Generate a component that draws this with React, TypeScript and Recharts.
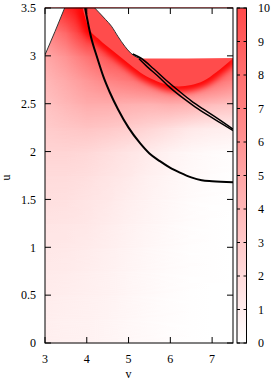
import React from "react";
import { ComposedChart, XAxis, YAxis, ReferenceArea, Line, Area } from "recharts";

const FONT = "'Liberation Serif', 'DejaVu Serif', serif";

// ─── Axes ─────────────────────────────────────────────────────────────────────
const vDomain: [number, number] = [3, 7.5];
const uDomain: [number, number] = [0, 3.5];
const vTicks = [3, 4, 5, 6, 7];
const uTicks = [0, 0.5, 1, 1.5, 2, 2.5, 3, 3.5];
const cbDomain: [number, number] = [0, 10];
const cbTicks = [0, 1, 2, 3, 4, 5, 6, 7, 8, 9, 10];

// ─── Field samples (colour-box units; above 10 runs into pure red) ───────────
const gridV = [3, 3.5, 4, 4.5, 5, 5.5, 6, 6.5, 7, 7.5];
const gridU = [0, 0.25, 0.5, 0.75, 1, 1.25, 1.5, 1.75, 2, 2.25, 2.5, 2.75, 3, 3.25, 3.5];
const fieldRows = [
  [0.9, 0.8, 0.7, 0.55, 0.4, 0.25, 0.12, 0.05, 0, 0],
  [0.95, 0.85, 0.75, 0.6, 0.45, 0.28, 0.14, 0.06, 0, 0],
  [1.05, 0.95, 0.85, 0.7, 0.5, 0.32, 0.16, 0.07, 0.02, 0],
  [1.15, 1.1, 0.95, 0.8, 0.58, 0.38, 0.2, 0.09, 0.03, 0],
  [1.3, 1.25, 1.1, 0.9, 0.68, 0.45, 0.25, 0.12, 0.04, 0],
  [1.5, 1.45, 1.3, 1.05, 0.8, 0.55, 0.32, 0.16, 0.06, 0.02],
  [1.75, 1.7, 1.5, 1.25, 0.95, 0.68, 0.42, 0.22, 0.1, 0.04],
  [2.0, 2.0, 1.8, 1.5, 1.2, 0.85, 0.55, 0.32, 0.16, 0.08],
  [2.35, 2.35, 2.2, 1.9, 1.5, 1.1, 0.72, 0.45, 0.28, 0.18],
  [2.8, 3.1, 3.3, 3.1, 2.8, 2.4, 1.9, 1.3, 1.1, 1.0],
  [3.3, 4.0, 4.6, 4.6, 4.4, 4.3, 4.6, 4.4, 3.8, 3.5],
  [4.0, 4.8, 5.8, 6.8, 7.5, 8.5, 9.5, 9.5, 8.5, 7.0],
  [4.8, 6.0, 7.8, 9.5, 10, 10, 10, 10, 10, 10],
  [6.5, 8.5, 11, 10.5, 10, 10, 10, 10, 10, 10],
  [9, 11, 12, 11, 10, 10, 10, 10, 10, 10],
];

// ─── Domain edges and curves (v, u) ───────────────────────────────────────────
const leftEdge = [
  { v: 3.0, u: 3.01 },
  { v: 3.24, u: 3.255 },
  { v: 3.47, u: 3.5 },
];
const rightEdge = [
  { v: 4.19, u: 3.5 },
  { v: 4.3, u: 3.45 },
  { v: 4.45, u: 3.38 },
  { v: 4.59, u: 3.31 },
  { v: 4.75, u: 3.2 },
  { v: 4.91, u: 3.1 },
  { v: 5.05, u: 3.03 },
  { v: 5.2, u: 2.985 },
  { v: 5.3, u: 2.972 },
];
const flatTop = [
  { v: 5.3, u: 2.972 },
  { v: 7.5, u: 2.978 },
];
// jump in the field: saturated just below, flat colour above
const ridge = [
  { v: 3.9, u: 3.5 },
  { v: 4.03, u: 3.31 },
  { v: 4.3, u: 3.17 },
  { v: 4.6, u: 3.06 },
  { v: 5.0, u: 2.92 },
  { v: 5.27, u: 2.83 },
  { v: 5.6, u: 2.75 },
  { v: 5.9, u: 2.7 },
  { v: 6.2, u: 2.68 },
  { v: 6.5, u: 2.695 },
  { v: 6.8, u: 2.74 },
  { v: 7.1, u: 2.83 },
  { v: 7.3, u: 2.9 },
  { v: 7.5, u: 2.975 },
];
const lowerCurve = [
  { v: 3.96, u: 3.5 },
  { v: 4.1, u: 3.2 },
  { v: 4.25, u: 2.98 },
  { v: 4.4, u: 2.78 },
  { v: 4.55, u: 2.62 },
  { v: 4.75, u: 2.44 },
  { v: 5.0, u: 2.25 },
  { v: 5.27, u: 2.09 },
  { v: 5.5, u: 1.98 },
  { v: 5.75, u: 1.9 },
  { v: 6.0, u: 1.83 },
  { v: 6.23, u: 1.78 },
  { v: 6.5, u: 1.73 },
  { v: 6.75, u: 1.7 },
  { v: 7.0, u: 1.69 },
  { v: 7.5, u: 1.68 },
];
const pairUpper = [
  { v: 5.1, u: 3.02 },
  { v: 5.3, u: 2.975 },
  { v: 5.6, u: 2.865 },
  { v: 5.9, u: 2.745 },
  { v: 6.2, u: 2.635 },
  { v: 6.5, u: 2.53 },
  { v: 6.8, u: 2.44 },
  { v: 7.1, u: 2.355 },
  { v: 7.5, u: 2.235 },
];
const pairLower = [
  { v: 5.25, u: 2.97 },
  { v: 5.45, u: 2.885 },
  { v: 5.7, u: 2.79 },
  { v: 6.0, u: 2.665 },
  { v: 6.3, u: 2.56 },
  { v: 6.6, u: 2.465 },
  { v: 6.9, u: 2.38 },
  { v: 7.2, u: 2.3 },
  { v: 7.5, u: 2.22 },
];

// white -> red palette, values past 10 deepen towards pure red
function heat(val: number): string {
  const g = val <= 10 ? 255 - 18.1 * val : Math.max(0, 74 - 37 * (val - 10));
  const h = Math.round(g).toString(16).padStart(2, "0");
  return `#ff${h}${h}`;
}

const toTop = (pts: { v: number; u: number }[]) =>
  pts.map((p) => ({ v: p.v, lo: p.u, hi: uDomain[1] }));
const maskLeft = toTop(leftEdge);
const maskRight = toTop([...rightEdge, ...flatTop.slice(1)]);
const plateau = toTop(ridge);
const range = (d: { lo: number; hi: number }) => [d.lo, d.hi];
const cbFill = [
  { x: 0, span: cbDomain },
  { x: 1, span: cbDomain },
];

// ─── Layout: plot box x 45..233, y 8..343; colour box x 237..246.5 ───────────
const W = 274;
const H = 382;
const PLOT = { left: 45, top: 8, right: 233, bottom: 343 };
const CBOX = { left: 237, right: 246.5 };
const TICK = 6;
const CB_TICK = 3;
const tickStyle = { fontSize: 12, fontFamily: FONT, fill: "#000" };

// same linear mapping the chart uses, for the border furniture only
const px = (v: number) => PLOT.left + ((v - vDomain[0]) / (vDomain[1] - vDomain[0])) * (PLOT.right - PLOT.left);
const pyU = (u: number) => PLOT.bottom - ((u - uDomain[0]) / (uDomain[1] - uDomain[0])) * (PLOT.bottom - PLOT.top);
const pyC = (c: number) => PLOT.bottom - ((c - cbDomain[0]) / (cbDomain[1] - cbDomain[0])) * (PLOT.bottom - PLOT.top);

function Furniture() {
  const d: string[] = [];
  vTicks.forEach((t) => {
    const x = px(t);
    d.push(`M${x},${PLOT.bottom}v${-TICK}M${x},${PLOT.top}v${TICK}`);
  });
  uTicks.forEach((t) => {
    const y = pyU(t);
    d.push(`M${PLOT.left},${y}h${TICK}M${PLOT.right},${y}h${-TICK}`);
  });
  cbTicks.forEach((t) => {
    const y = pyC(t);
    d.push(`M${CBOX.left},${y}h${CB_TICK}M${CBOX.right},${y}h${-CB_TICK}`);
  });
  return (
    <svg
      width={W}
      height={H}
      style={{ position: "absolute", left: 0, top: 0, zIndex: 5, pointerEvents: "none" }}
    >
      <path d={d.join("")} stroke="#000" strokeWidth={1} fill="none" />
      <rect
        x={PLOT.left}
        y={PLOT.top}
        width={PLOT.right - PLOT.left}
        height={PLOT.bottom - PLOT.top}
        stroke="#000"
        strokeWidth={1}
        fill="none"
      />
      <rect
        x={CBOX.left}
        y={PLOT.top}
        width={CBOX.right - CBOX.left}
        height={PLOT.bottom - PLOT.top}
        stroke="#000"
        strokeWidth={1}
        fill="none"
      />
    </svg>
  );
}

function HeatBand(props: any) {
  const { x, y, width, height, row } = props;
  return (
    <g>
      <rect x={x} y={y - 0.5} width={width} height={height + 1} fill={`url(#row-${row})`} />
      <rect
        x={x}
        y={y - 0.5}
        width={width}
        height={height + 1}
        fill={`url(#row-${row + 1})`}
        mask="url(#fade)"
      />
    </g>
  );
}

const renderVLabel = (props: any) => {
  const vb = props.viewBox;
  return (
    <text x={vb.x + vb.width / 2 - 10.5} y={vb.y + 35} textAnchor="middle" {...tickStyle}>
      v
    </text>
  );
};

const renderULabel = (props: any) => {
  const vb = props.viewBox;
  const x = vb.x + 9.5;
  const y = vb.y + vb.height / 2 + 2;
  return (
    <text x={x} y={y} transform={`rotate(-90 ${x} ${y})`} textAnchor="middle" {...tickStyle}>
      u
    </text>
  );
};

const layer = (z: number) => ({ position: "absolute", left: 0, top: 0, zIndex: z }) as const;
const plain = { dot: false, activeDot: false, isAnimationActive: false } as const;

export default function App() {
  const vSpan = gridV[gridV.length - 1] - gridV[0];
  return (
    <div style={{ position: "absolute", left: 0, top: 0, width: W, height: H, background: "#fff" }}>
      <svg width={0} height={0} style={{ position: "absolute" }}>
        <defs>
          {fieldRows.map((row, j) => (
            <linearGradient id={`row-${j}`} key={j} x1="0" y1="0" x2="1" y2="0">
              {row.map((val, k) => (
                <stop key={k} offset={(gridV[k] - gridV[0]) / vSpan} stopColor={heat(val)} />
              ))}
            </linearGradient>
          ))}
          <linearGradient id="fadeGrad" x1="0" y1="0" x2="0" y2="1">
            <stop offset="0" stopColor="#fff" stopOpacity={1} />
            <stop offset="1" stopColor="#fff" stopOpacity={0} />
          </linearGradient>
          <mask id="fade" maskContentUnits="objectBoundingBox" style={{ maskType: "alpha" } as any}>
            <rect x="0" y="0" width="1" height="1" fill="url(#fadeGrad)" />
          </mask>
          <filter id="ridgeBlur" x="-10%" y="-60%" width="120%" height="220%">
            <feGaussianBlur stdDeviation="3" />
          </filter>
          <linearGradient id="cbar" x1="0" y1="1" x2="0" y2="0">
            {cbTicks.map((t) => (
              <stop key={t} offset={t / cbDomain[1]} stopColor={heat(t)} />
            ))}
          </linearGradient>
        </defs>
      </svg>

      {/* map */}
      <ComposedChart
        width={W}
        height={H}
        margin={{ top: PLOT.top, right: W - PLOT.right, left: 0, bottom: 0 }}
        style={layer(1)}
      >
        <XAxis
          dataKey="v"
          type="number"
          domain={vDomain}
          ticks={vTicks}
          interval={0}
          allowDataOverflow
          height={H - PLOT.bottom}
          tickLine={false}
          axisLine={false}
          tickSize={TICK}
          tickMargin={5}
          tick={tickStyle}
          label={renderVLabel}
        />
        <YAxis
          type="number"
          domain={uDomain}
          ticks={uTicks}
          interval={0}
          allowDataOverflow
          width={PLOT.left}
          tickLine={false}
          axisLine={false}
          tickSize={TICK}
          tickMargin={3}
          tick={tickStyle}
          label={renderULabel}
        />
        {gridU.slice(0, -1).map((u, i) => (
          <ReferenceArea
            key={`band-${i}`}
            x1={vDomain[0]}
            x2={vDomain[1]}
            y1={u}
            y2={gridU[i + 1]}
            zIndex={10}
            shape={(p: any) => <HeatBand {...p} row={i} />}
          />
        ))}
        <Line data={ridge} dataKey="u" type="monotone" stroke="#ff0000" strokeWidth={10} filter="url(#ridgeBlur)" {...plain} zIndex={20} />
        <Area data={plateau} dataKey={range} type="monotone" fill="#ff4c4c" fillOpacity={1} stroke="none" isAnimationActive={false} zIndex={30} />
        <Area data={maskLeft} dataKey={range} type="linear" fill="#fff" fillOpacity={1} stroke="none" isAnimationActive={false} zIndex={40} />
        <Area data={maskRight} dataKey={range} type="monotone" fill="#fff" fillOpacity={1} stroke="none" isAnimationActive={false} zIndex={40} />
        <Line data={leftEdge} dataKey="u" type="linear" stroke="#333" strokeWidth={1} {...plain} zIndex={50} />
        <Line data={rightEdge} dataKey="u" type="monotone" stroke="#333" strokeWidth={1} {...plain} zIndex={50} />
        <Line data={lowerCurve} dataKey="u" type="monotone" stroke="#000" strokeWidth={2} {...plain} zIndex={50} />
        <Line data={pairUpper} dataKey="u" type="monotone" stroke="#000" strokeWidth={1.5} {...plain} zIndex={50} />
        <Line data={pairLower} dataKey="u" type="monotone" stroke="#000" strokeWidth={1.5} {...plain} zIndex={50} />
      </ComposedChart>

      {/* colour box */}
      <ComposedChart
        width={W}
        height={H}
        margin={{ top: PLOT.top, right: 0, left: CBOX.left, bottom: H - PLOT.bottom }}
        style={layer(2)}
      >
        <XAxis dataKey="x" type="number" domain={[0, 1]} allowDataOverflow hide />
        <YAxis
          orientation="right"
          type="number"
          domain={cbDomain}
          ticks={cbTicks}
          interval={0}
          allowDataOverflow
          width={W - CBOX.right}
          tickLine={false}
          axisLine={false}
          tickSize={CB_TICK}
          tickMargin={8.5}
          tick={tickStyle}
        />
        <Area data={cbFill} dataKey="span" type="linear" fill="url(#cbar)" fillOpacity={1} stroke="none" isAnimationActive={false} />
      </ComposedChart>

      <Furniture />
    </div>
  );
}
